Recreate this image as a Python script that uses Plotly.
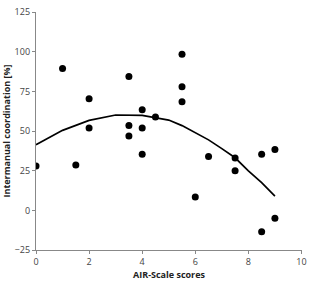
import plotly.graph_objects as go

# Scatter data: AIR-Scale scores vs intermanual coordination [%]
air_scores = [0, 1, 1.5, 2, 2, 3.5, 3.5, 3.5, 4, 4, 4, 4.5,
              5.5, 5.5, 5.5, 6, 6.5, 7.5, 7.5, 8.5, 8.5, 9, 9]
coordination = [28, 89.5, 28.7, 70.5, 52, 84.5, 53.5, 47, 63.5, 52, 35.5, 59,
                98.5, 78, 68.5, 8.5, 34, 33, 25, 35.5, -13.5, 38.5, -5]

# Trend line
trend_x = [0, 1, 2, 3, 4, 5, 5.5, 6, 6.5, 7, 7.5, 8, 8.5, 9]
trend_y = [41.5, 50.5, 56.8, 60.2, 60, 57, 53.5, 49, 44.5, 39, 33.2, 25, 17.5, 9]

x_ticks = [0, 2, 4, 6, 8, 10]
y_ticks = [-25, 0, 25, 50, 75, 100, 125]

fig = go.Figure()
fig.add_trace(go.Scatter(x=trend_x, y=trend_y, mode="lines",
                         line=dict(color="black", width=1.7), showlegend=False,
                         hoverinfo="skip"))
fig.add_trace(go.Scatter(x=air_scores, y=coordination, mode="markers",
                         marker=dict(color="black", size=7), showlegend=False))

axis_common = dict(showgrid=False, zeroline=False, showline=True,
                   linecolor="#888888", linewidth=1.3, ticks="outside",
                   ticklen=3, tickcolor="#888888", tickwidth=1,
                   ticklabeloverflow="allow",
                   tickfont=dict(family="Open Sans", size=9, color="#444444"))

fig.update_layout(
    width=312, height=283,
    margin=dict(l=36, r=6, t=5, b=32),
    paper_bgcolor="white", plot_bgcolor="white",
    xaxis=dict(range=[0, 10.02], tickvals=x_ticks,
               title=dict(text="<b>AIR-Scale scores</b>", standoff=4,
                          font=dict(family="Open Sans", size=9, color="#222222")),
               **axis_common),
    yaxis=dict(range=[-25, 125.2], tickvals=y_ticks,
               title=dict(text="<b>Intermanual coordination [%]</b>", standoff=2,
                          font=dict(family="Open Sans", size=9, color="#222222")),
               **axis_common),
)

fig.write_html("out.html")
